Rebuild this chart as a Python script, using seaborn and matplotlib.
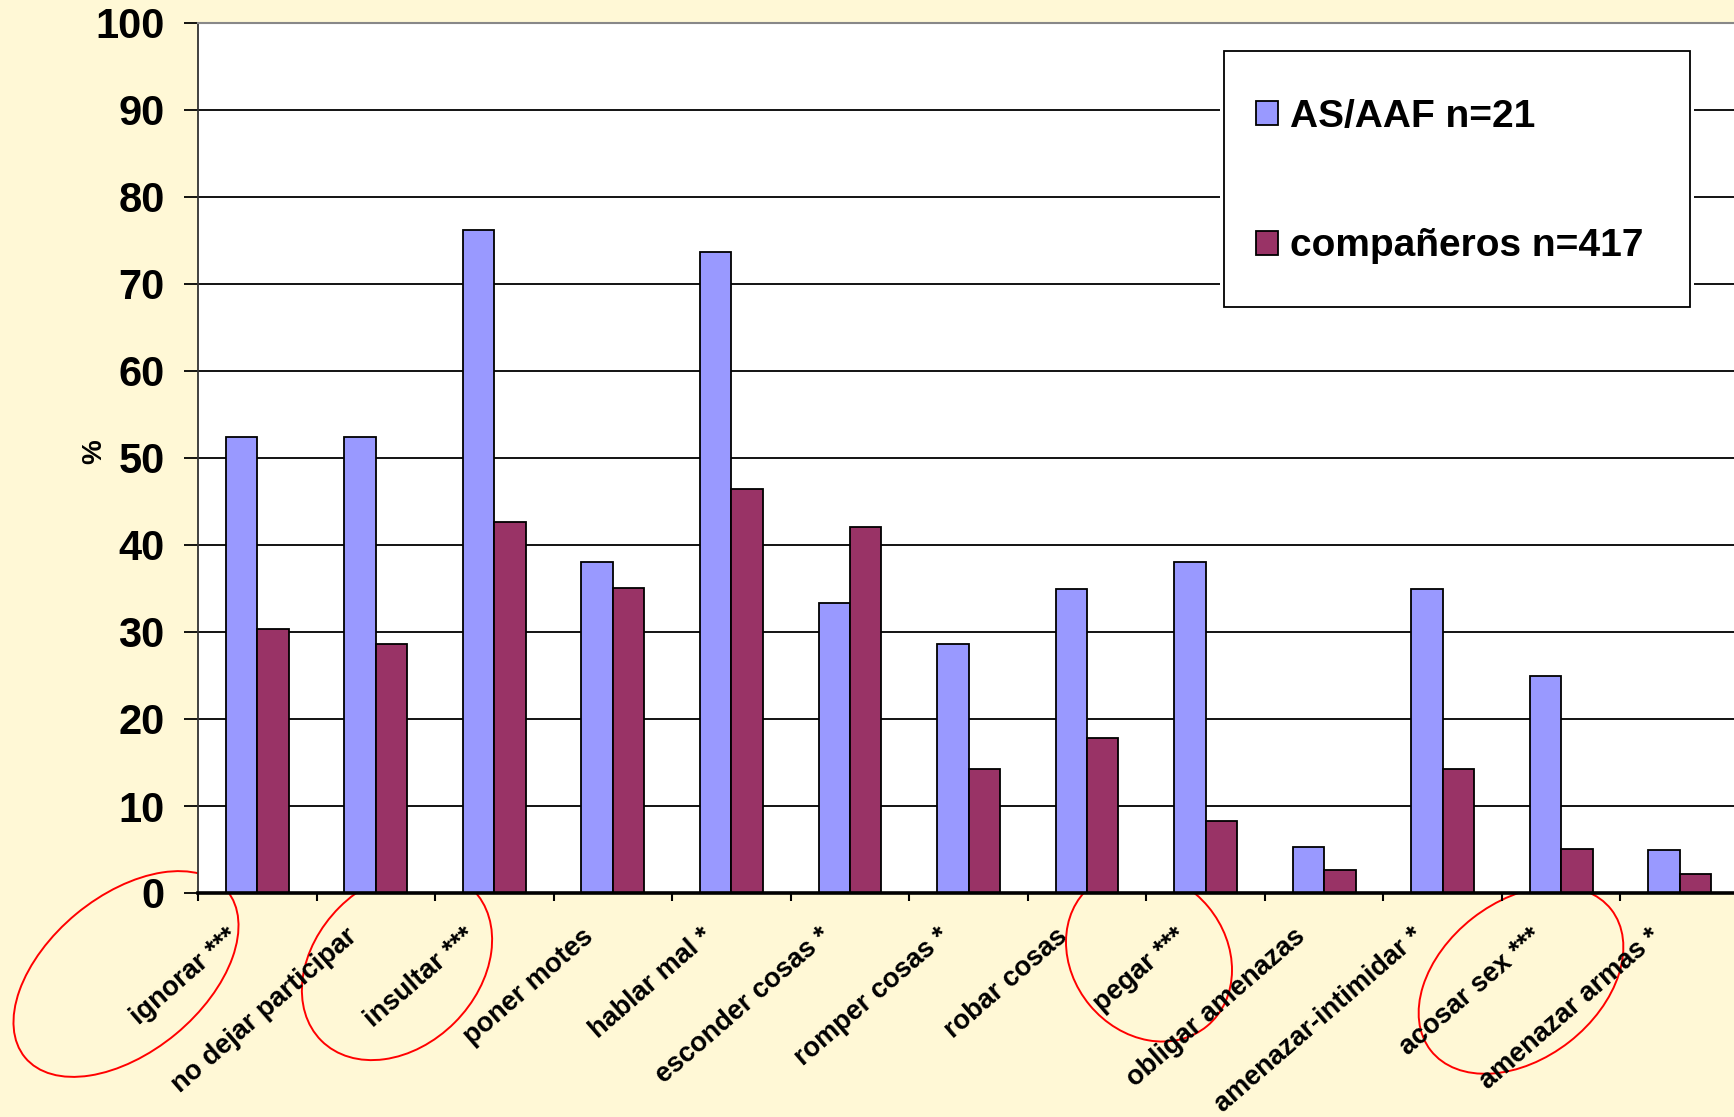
import numpy as np
import pandas as pd
import matplotlib
matplotlib.use("Agg")
import matplotlib.pyplot as plt
from matplotlib.patches import Ellipse, Rectangle
import seaborn as sns

## data

conductas = ["ignorar ***", "no dejar participar", "insultar ***", "poner motes",
             "hablar mal *", "esconder cosas *", "romper cosas *", "robar cosas",
             "pegar ***", "obligar amenazas", "amenazar-intimidar *", "acosar sex ***",
             "amenazar armas *"]
as_aaf = [52.4, 52.4, 76.2, 38.1, 73.7, 33.3, 28.6, 35.0, 38.1, 5.3, 35.0, 25.0, 5.0]
companeros = [30.3, 28.6, 42.6, 35.1, 46.4, 42.1, 14.2, 17.8, 8.3, 2.7, 14.2, 5.1, 2.2]
grupos = ["AS/AAF n=21", "compañeros n=417"]
y_ticks = [0, 10, 20, 30, 40, 50, 60, 70, 80, 90, 100]

df = pd.DataFrame({
    "conducta": conductas * 2,
    "pct": as_aaf + companeros,
    "grupo": [grupos[0]] * len(conductas) + [grupos[1]] * len(conductas),
})

W, H = 1734, 1117
sns.set_style("white")
plt.rcParams["font.family"] = ["Liberation Sans", "DejaVu Sans"]
plt.rcParams["font.weight"] = "bold"
plt.rcParams["text.color"] = "black"
plt.rcParams["axes.labelcolor"] = "black"
plt.rcParams["xtick.color"] = "black"
plt.rcParams["ytick.color"] = "black"

fig = plt.figure(figsize=(W / 100, H / 100), dpi=100, facecolor="#FFF8D6")
ax = fig.add_axes([198 / W, 1 - 893 / H, 1541 / W, 870 / H])
ax.set_facecolor("white")

sns.barplot(data=df, x="conducta", y="pct", hue="grupo", palette=["#9999FF", "#993366"],
            width=0.53, saturation=1, edgecolor="black", linewidth=1.3, ax=ax)

ax.set_ylim(0, 100)
ax.set_xlim(-0.5, len(conductas) - 0.5)
ax.set_yticks(y_ticks)
ax.yaxis.grid(True, color="black", linewidth=1.3)
ax.set_axisbelow(True)

for s in ["left", "bottom", "top", "right"]:
    ax.spines[s].set_visible(True)
ax.spines["left"].set_color("#333333")
ax.spines["left"].set_linewidth(1.3)
ax.spines["bottom"].set_color("black")
ax.spines["bottom"].set_linewidth(2.6)
ax.spines["top"].set_color("#888888")
ax.spines["top"].set_linewidth(1.5)
ax.spines["right"].set_color("#888888")

ax.tick_params(axis="y", direction="out", length=10, width=1.3, pad=14,
               labelsize=30, left=True, colors="black")
for t in ax.get_yticklabels():
    t.set_fontweight("bold")

# tick marks between groups; labels hang a little left of each group centre
ax.set_xticks(np.arange(len(conductas)) - 0.19)
ax.set_xticks(np.arange(-0.5, len(conductas), 1.0), minor=True)
ax.tick_params(axis="x", which="major", length=0, pad=29, colors="black")
ax.tick_params(axis="x", which="minor", direction="out", length=6, width=1.5, bottom=True)
ax.set_xticklabels(conductas, rotation=41, ha="right", va="center",
                   rotation_mode="anchor", fontsize=19.5, fontweight="bold")

ax.set_xlabel("")
ax.set_ylabel("%", fontsize=20, fontweight="bold", color="black")
ax.yaxis.set_label_coords(-0.059, 0.507)

# legend box
ax.add_patch(Rectangle((0.6630, 0.6700), 0.3080, 0.3020, transform=ax.transAxes,
                       facecolor="white", edgecolor="none", zorder=3))
ax.add_patch(Rectangle((0.6658, 0.6736), 0.3024, 0.2943, transform=ax.transAxes,
                       facecolor="white", edgecolor="black", linewidth=1.3, zorder=3.1))
handles, labels = ax.get_legend_handles_labels()
leg = ax.legend(handles, labels, loc="upper left", bbox_to_anchor=(0.6866, 0.9126),
                prop={"size": 28, "weight": "bold"}, handlelength=0.57, handleheight=0.57,
                handletextpad=0.3, labelspacing=2.4, borderpad=0, frameon=False,
                borderaxespad=0, labelcolor="black")
leg.set_zorder(4)

# red ellipses drawn on the figure, under the plot area
circulos = [(126, 974, 262, 156, 39.6), (397, 965, 214, 163, 45),
            (1149, 956, 182, 154, 129.7), (1521, 980, 229, 157, 38)]
for cx, cy, w, h, ang in circulos:
    e = Ellipse((cx / 100, (H - cy) / 100), w / 100, h / 100, angle=ang,
                transform=fig.dpi_scale_trans, fill=False, edgecolor="red",
                linewidth=1.4, zorder=-1)
    fig.add_artist(e)

fig.savefig("out.png", dpi=100, facecolor=fig.get_facecolor())
